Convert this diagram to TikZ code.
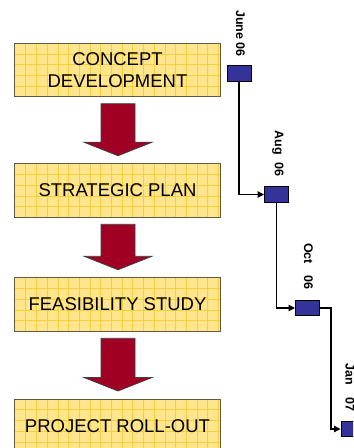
\documentclass[tikz,border=0pt]{standalone}
\usepackage{fontspec}
\setmainfont{Liberation Sans}
\usetikzlibrary{calc,arrows.meta}
\definecolor{boxfill}{RGB}{255,229,140}
\definecolor{boxgrid}{RGB}{248,206,60}
\definecolor{boxedge}{RGB}{95,90,65}
\definecolor{arrred}{RGB}{160,0,35}
\definecolor{msq}{RGB}{51,51,153}
\begin{document}
\begin{tikzpicture}[x=1bp,y=-1bp,
  phase/.style={draw=boxedge, line width=1bp, fill=boxfill, minimum width=205bp,
    minimum height=53.5bp, inner sep=0pt, align=center,
    font=\fontsize{18.5bp}{22bp}\selectfont,
    path picture={
      \foreach \i in {1,...,20}{\draw[boxgrid,line width=0.55bp] ([xshift=\i*10.7bp]path picture bounding box.north west) -- ++(0,-80bp);}
      \foreach \j in {1,...,6}{\draw[boxgrid,line width=0.55bp] ([yshift=-\j*10.7bp]path picture bounding box.north west) -- ++(220bp,0);}
    }},
  bigarr/.style={fill=arrred, draw=black!75, line width=0.8bp, line join=miter},
  mstone/.style={draw=black, fill=msq, line width=1bp, minimum width=24bp,
    minimum height=15.5bp, inner sep=0pt},
  datelbl/.style={rotate=-90, font=\fontsize{12.5bp}{14bp}\selectfont\bfseries, inner sep=0pt},
  conn/.style={line width=1.2bp, -{Triangle[length=6.5bp,width=6.5bp]}}
]
\useasboundingbox (0,0) rectangle (353,448);
\clip (0,0) rectangle (353,448);

% phase boxes
\node[phase] (b1) at (117.5,70) {CONCEPT\\DEVELOPMENT};
\node[phase] (b2) at (117.5,190.5) {STRATEGIC PLAN};
\node[phase] (b3) at (117.5,304.5) {FEASIBILITY STUDY};
\node[phase] (b4) at (117.5,425.75) {PROJECT ROLL-OUT};

% big arrows
\foreach \a/\b in {b1/b2,b2/b3,b3/b4}{
  \draw[bigarr] ($(\a.south)+(0.5,6.5)$) ++(-17,0) -- ++(34,0)
    -- ($(\b.north)+(17.5,-21)$) -- ++(17,0) -- ($(\b.north)+(0.5,-7.5)$)
    -- ($(\b.north)+(-33.5,-21)$) -- ++(17,0) -- cycle;
}

% milestones
\node[mstone] (jun) at (239,73.5) {};
\node[mstone] (aug) at (276.5,194.5) {};
\node[mstone] (oct) at (307.5,308) {};
\node[mstone] (jan) at (353,429) {};

\node[datelbl] (ljun) at (240.5,33.5) {June 06};
\node[datelbl] (laug) at (278,153.5) {Aug\hspace{8bp}06};
\node[datelbl] (loct) at (308.5,266.5) {Oct\hspace{12bp}06};
\node[datelbl] (ljan) at (350,387.5) {Jan\hspace{12bp}07};

% connectors
\draw[conn] (jun.south) |- (aug.west);
\draw[conn] (aug.south) |- (oct.west);
\draw[conn] (oct.east) -- ++(11,0) |- (jan.west);
\end{tikzpicture}
\end{document}
